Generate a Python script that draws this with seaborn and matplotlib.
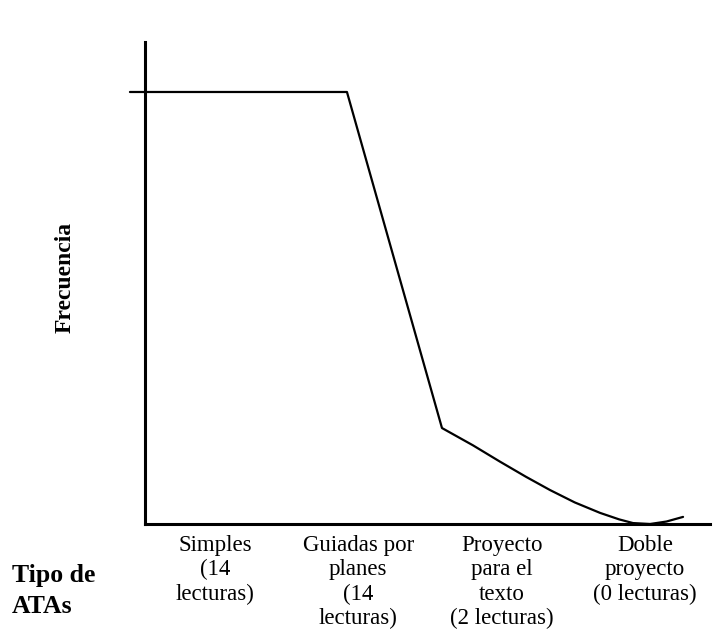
import matplotlib
matplotlib.use("Agg")
import matplotlib.pyplot as plt
import seaborn as sns
import pandas as pd

# Categorías del eje X (tipos de ATAs) y frecuencias
categorias = [
    "Simples\n(14\nlecturas)",
    "Guiadas por\nplanes\n(14\nlecturas)",
    "Proyecto\npara el\ntexto\n(2 lecturas)",
    "Doble\nproyecto\n(0 lecturas)",
]
lecturas = [14, 14, 2, 0]

# Trazo tal como aparece dibujado (posición sobre el eje de categorías, frecuencia)
trazo_x = [-0.593, 0.921, 1.584, 1.80, 1.989, 2.17, 2.338, 2.51, 2.687, 2.82, 2.917, 3.036, 3.15, 3.266]
trazo_y = [14.0, 14.0, 3.11, 2.55, 2.02, 1.53, 1.10, 0.70, 0.36, 0.15, 0.03, 0.0, 0.08, 0.23]

sns.set_style("white")
plt.rcParams["font.family"] = ["Liberation Serif", "DejaVu Serif"]
plt.rcParams["text.color"] = "black"
plt.rcParams["xtick.color"] = "black"
plt.rcParams["xtick.labelcolor"] = "black"

fig = plt.figure(figsize=(7.15, 6.34), dpi=100)
ax = fig.add_axes([145 / 715, 110 / 634, 565 / 715, 482 / 634])

df = pd.DataFrame({"x": trazo_x, "y": trazo_y})
sns.lineplot(data=df, x="x", y="y", ax=ax, color="black", linewidth=1.6,
             sort=False, estimator=None, clip_on=False)

ax.set_xlim(-0.488, 3.454)
ax.set_ylim(0, 15.62)

for side in ["top", "right"]:
    ax.spines[side].set_visible(False)
for side in ["left", "bottom"]:
    ax.spines[side].set_color("black")
    ax.spines[side].set_linewidth(2.2)

ax.set_xticks(range(len(categorias)))
ax.set_xticklabels(categorias, fontsize=16.5, color="black", linespacing=1.2)
ax.set_yticks([])
ax.tick_params(axis="x", length=0, pad=8)
ax.set_xlabel("")
ax.set_ylabel("")

fig.text(65 / 715, 1 - 277 / 634, "Frecuencia", rotation=90, fontsize=17,
         fontweight="bold", ha="center", va="center", color="black")
fig.text(12 / 715, 1 - 582 / 634, "Tipo de", fontsize=18.5,
         fontweight="bold", ha="left", va="baseline", color="black")
fig.text(12 / 715, 1 - 613 / 634, "ATAs", fontsize=18.5,
         fontweight="bold", ha="left", va="baseline", color="black")

fig.savefig("out.png", dpi=100)
